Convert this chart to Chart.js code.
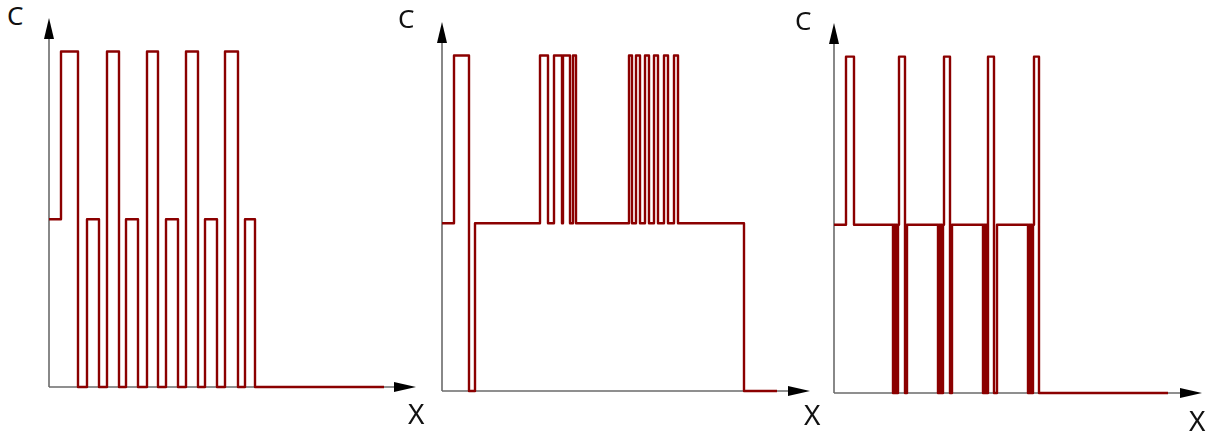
<!DOCTYPE html>
<html>
<head>
<meta charset="utf-8">
<script src="https://cdn.jsdelivr.net/npm/chart.js@4"></script>
<style>
  body { margin: 0; background: #fff; }
  #wrap { position: relative; width: 1214px; height: 435px; overflow: hidden; }
  #wrap canvas { position: absolute; }
  .lbl { position: absolute; font-family: "Noto Sans", sans-serif; color: #111; line-height: 1; }
</style>
</head>
<body>
<div id="wrap"></div>
<script>
// levels: 0 = none, 0.5 = C mid, 1 = C high
// x = distance along X (px-like units from the origin), value holds until the next x
const p1X = [0, 12, 29, 38, 50, 58, 70, 77, 89, 98, 109, 117, 129, 137, 149, 156, 168, 176, 189, 196, 206, 335];
const p1C = [0.5, 1, 0, 0.5, 0, 1, 0, 0.5, 0, 1, 0, 0.5, 0, 1, 0, 0.5, 0, 1, 0, 0.5, 0, 0];

const p2X = [0, 12, 27, 33, 98, 106, 112, 120, 121, 128, 131, 134, 187, 190, 194, 198, 203, 207, 212, 216, 222, 226, 232, 236, 302, 335];
const p2C = [0.5, 1, 0, 0.5, 1, 0.5, 1, 0.5, 1, 0.5, 1, 0.5, 1, 0.5, 1, 0.5, 1, 0.5, 1, 0.5, 1, 0.5, 1, 0.5, 0, 0];

const p3X = [0, 12, 20, 59, 60, 61, 62, 63, 64, 65, 71, 73,
             104, 105, 106, 107, 108, 109, 110, 116, 118,
             149, 150, 151, 152, 153, 154, 160, 163,
             194, 195, 196, 197, 198, 199, 200, 205, 334];
const p3C = [0.5, 1, 0.5, 0, 0.5, 0, 0.5, 0, 0.5, 1, 0, 0.5,
             0, 0.5, 0, 0.5, 0, 0.5, 1, 0, 0.5,
             0, 0.5, 0, 0.5, 0, 1, 0, 0.5,
             0, 0.5, 0, 0.5, 0, 0.5, 1, 0, 0];

const xMaxes = [367, 368, 368];
const yMax = 1.1;

// where each plot sits on the page: origin x, top (arrow tip), bottom (x axis)
const frames = [
  { left: 49, top: 18, bottom: 387 },
  { left: 442, top: 22, bottom: 391 },
  { left: 834, top: 23, bottom: 393 }
];
const labels = [
  { c: [7, 2], x: [408, 399] },
  { c: [398, 5], x: [804, 400] },
  { c: [795, 7], x: [1189, 406] }
];

const pad = { left: 10, right: 10, top: 6, bottom: 10 };

const axisArrows = {
  id: 'axisArrows',
  beforeDatasetsDraw(chart) {
    const { ctx, chartArea, scales } = chart;
    const x0 = scales.x.getPixelForValue(0);
    const y0 = scales.y.getPixelForValue(0);
    const top = chartArea.top, right = chartArea.right;
    ctx.save();
    ctx.strokeStyle = '#6b6b6b';
    ctx.lineWidth = 1.6;
    ctx.beginPath();
    ctx.moveTo(x0, y0);
    ctx.lineTo(x0, top + 18);
    ctx.moveTo(x0, y0);
    ctx.lineTo(right - 18, y0);
    ctx.stroke();
    ctx.fillStyle = '#000';
    ctx.beginPath();
    ctx.moveTo(x0, top);
    ctx.lineTo(x0 - 5, top + 21);
    ctx.lineTo(x0 + 5, top + 21);
    ctx.closePath();
    ctx.fill();
    ctx.beginPath();
    ctx.moveTo(right, y0);
    ctx.lineTo(right - 22, y0 - 5);
    ctx.lineTo(right - 22, y0 + 5);
    ctx.closePath();
    ctx.fill();
    ctx.restore();
  }
};

const wrap = document.getElementById('wrap');
const series = [[p1X, p1C], [p2X, p2C], [p3X, p3C]];

series.forEach(([xs, cs], i) => {
  const f = frames[i];
  const canvas = document.createElement('canvas');
  canvas.width = xMaxes[i] + pad.left + pad.right;
  canvas.height = (f.bottom - f.top) + pad.top + pad.bottom;
  canvas.style.left = (f.left - pad.left) + 'px';
  canvas.style.top = (f.top - pad.top) + 'px';
  wrap.appendChild(canvas);

  new Chart(canvas.getContext('2d'), {
    type: 'line',
    data: {
      datasets: [{
        data: xs.map((x, k) => ({ x: x, y: cs[k] })),
        borderColor: '#8b0000',
        borderWidth: 2.4,
        borderJoinStyle: 'round',
        stepped: 'before',
        pointRadius: 0,
        fill: false,
        clip: false
      }]
    },
    options: {
      responsive: false,
      animation: false,
      events: [],
      devicePixelRatio: 1,
      layout: { padding: pad },
      plugins: { legend: { display: false }, tooltip: { enabled: false } },
      scales: {
        x: { type: 'linear', min: 0, max: xMaxes[i], display: false },
        y: { min: 0, max: yMax, display: false }
      }
    },
    plugins: [axisArrows]
  });

  const c = document.createElement('div');
  c.className = 'lbl';
  c.style.fontSize = '26px';
  c.style.left = labels[i].c[0] + 'px';
  c.style.top = labels[i].c[1] + 'px';
  c.textContent = 'C';
  wrap.appendChild(c);

  const x = document.createElement('div');
  x.className = 'lbl';
  x.style.fontSize = '28px';
  x.style.left = labels[i].x[0] + 'px';
  x.style.top = labels[i].x[1] + 'px';
  x.textContent = 'X';
  wrap.appendChild(x);
});
</script>
</body>
</html>
